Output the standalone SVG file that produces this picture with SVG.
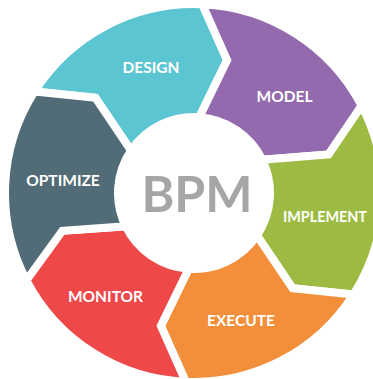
<svg xmlns="http://www.w3.org/2000/svg" width="373" height="379" viewBox="0 0 373 379">
<style>
.seg{stroke:#fff;stroke-width:8;stroke-linejoin:miter}
.lbl{font-family:Lato,"Open Sans","Liberation Sans",sans-serif;font-weight:700;font-size:15.5px;fill:#fff;text-anchor:middle}
.bpm{font-family:Lato,"Open Sans","Liberation Sans",sans-serif;font-weight:700;font-size:50px;fill:#a6a6a6;text-anchor:middle}
</style>
<rect width="373" height="379" fill="#fff"/>
<g id="design">
<path class="seg" fill="#5cc5d2" d="M34.60,91.45 A189,189 0 0 1 202.24,4.18 L227.14,60.07 L199.30,117.19 A76,76 0 0 0 130.99,150.50 L95.45,97.83 Z"/>
<text class="lbl" x="151" y="73">DESIGN</text>
</g>
<g id="model">
<path class="seg" fill="#926aad" d="M202.24,4.18 A189,189 0 0 1 361.64,105.73 L328.58,154.41 L262.31,159.68 A76,76 0 0 0 199.30,117.19 L227.14,60.07 Z"/>
<text class="lbl" x="284.5" y="102">MODEL</text>
</g>
<g id="implement">
<path class="seg" fill="#9dbb42" d="M361.64,105.73 A189,189 0 0 1 353.40,294.55 L292.55,288.17 L257.01,235.50 A76,76 0 0 0 262.31,159.68 L328.58,154.41 Z"/>
<text class="lbl" x="283" y="222" style="text-anchor:start" textLength="84" lengthAdjust="spacingAndGlyphs">IMPLEMENT</text>
</g>
<g id="execute">
<path class="seg" fill="#f38f3a" d="M353.40,294.55 A189,189 0 0 1 185.76,381.82 L160.86,325.93 L188.70,268.81 A76,76 0 0 0 257.01,235.50 L292.55,288.17 Z"/>
<text class="lbl" x="241" y="326">EXECUTE</text>
</g>
<g id="monitor">
<path class="seg" fill="#ef4849" d="M185.76,381.82 A189,189 0 0 1 26.36,280.27 L62.31,230.76 L125.69,226.32 A76,76 0 0 0 188.70,268.81 L160.86,325.93 Z"/>
<text class="lbl" x="105.5" y="302">MONITOR</text>
</g>
<g id="optimize">
<path class="seg" fill="#516b77" d="M26.36,280.27 A189,189 0 0 1 34.60,91.45 L95.45,97.83 L130.99,150.50 A76,76 0 0 0 125.69,226.32 L62.31,230.76 Z"/>
<text class="lbl" x="63" y="186">OPTIMIZE</text>
</g>
<g id="bpm">
<circle cx="194" cy="193" r="78" fill="#fff"/>
<text class="bpm" x="197" y="212">BPM</text>
</g>
<g id="connectors"></g>
</svg>
